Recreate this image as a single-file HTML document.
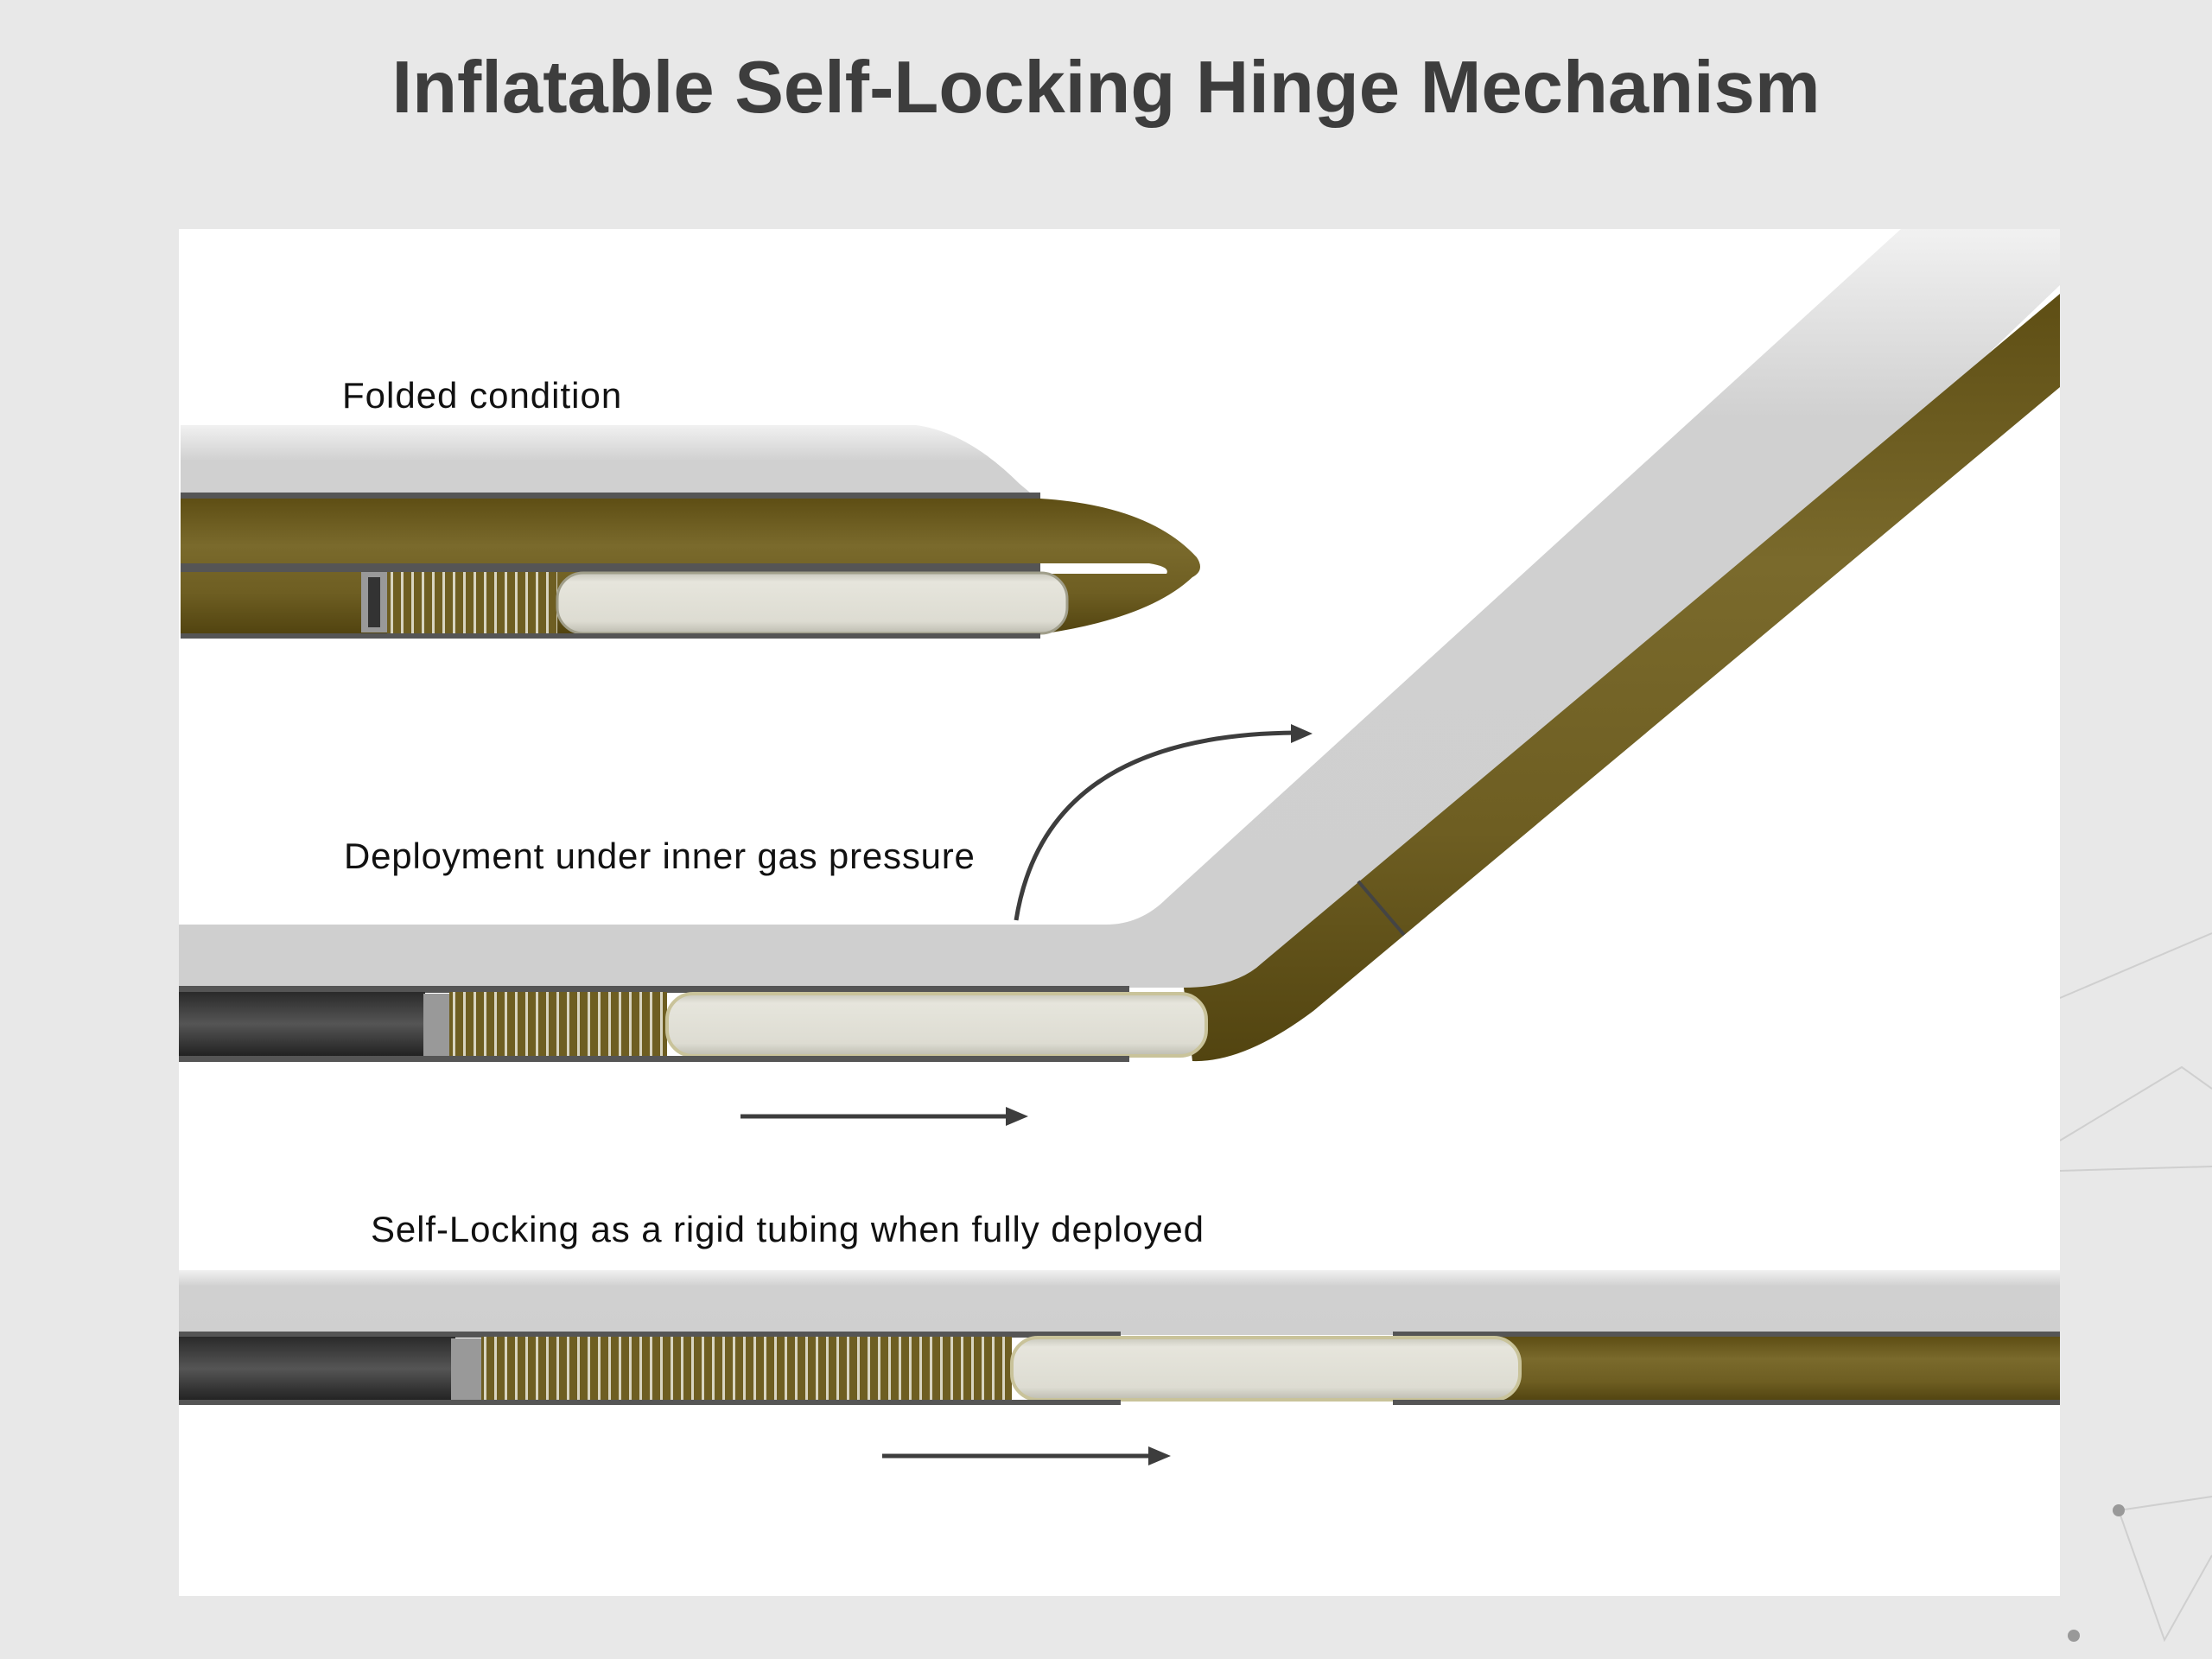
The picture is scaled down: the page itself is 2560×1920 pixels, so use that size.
<!DOCTYPE html>
<html><head><meta charset="utf-8"><style>
html,body{margin:0;padding:0;width:2560px;height:1920px;overflow:hidden;background:#e8e8e8}
svg{display:block}
text{font-family:"Liberation Sans",sans-serif}
</style></head><body>
<svg width="2560" height="1920" viewBox="0 0 2560 1920" xmlns="http://www.w3.org/2000/svg">
<defs>
<linearGradient id="ol" x1="0" y1="0" x2="0" y2="1">
<stop offset="0" stop-color="#5e4e14"/><stop offset="0.35" stop-color="#7a6a2c"/><stop offset="0.7" stop-color="#6e5e22"/><stop offset="1" stop-color="#524410"/></linearGradient>
<linearGradient id="wh" x1="0" y1="0" x2="0" y2="1">
<stop offset="0" stop-color="#c8c7bc"/><stop offset="0.15" stop-color="#e6e5dc"/><stop offset="0.8" stop-color="#dddcd2"/><stop offset="1" stop-color="#bdbcb0"/></linearGradient>
<linearGradient id="bk" x1="0" y1="0" x2="0" y2="1">
<stop offset="0" stop-color="#2a2a2a"/><stop offset="0.5" stop-color="#555"/><stop offset="1" stop-color="#222"/></linearGradient>
<pattern id="sp" width="12" height="10" patternUnits="userSpaceOnUse">
<rect width="12" height="10" fill="#6e5e22"/><rect x="8" width="3" height="10" fill="#d8d4c0"/></pattern>
<linearGradient id="sh" x1="0" y1="0" x2="0" y2="1"><stop offset="0" stop-color="#d0d0d0" stop-opacity="0.3"/><stop offset="0.25" stop-color="#d0d0d0"/><stop offset="1" stop-color="#cfcfcf"/></linearGradient>
</defs>
<rect width="2560" height="1920" fill="#e8e8e8"/>
<g stroke="#cfcfcf" stroke-width="2" fill="none">
<polyline points="2384,1155 2560,1080"/><polyline points="2384,1320 2525,1235 2560,1260"/><polyline points="2384,1355 2560,1350"/>
<polyline points="2452,1748 2560,1732"/><polyline points="2452,1748 2505,1898 2560,1800"/>
</g>
<circle cx="2452" cy="1748" r="7" fill="#999"/><circle cx="2400" cy="1893" r="7" fill="#999"/>
<text x="1280" y="130" text-anchor="middle" font-size="85" font-weight="bold" fill="#3d3d3d">Inflatable Self-Locking Hinge Mechanism</text>
<rect x="207" y="265" width="2177" height="1582" fill="#fff"/>

<!-- Folded -->
<text x="396" y="472" font-size="42" letter-spacing="1" fill="#111">Folded condition</text>
<path d="M209,492 L1060,492 Q1120,500 1180,560 L1300,660 L209,660 Z" fill="url(#sh)"/>
<rect x="209" y="570" width="995" height="8" fill="#555"/>
<path d="M209,577 L1204,577 Q1330,585 1385,645 Q1395,660 1380,668 Q1330,715 1210,733 L209,733 Z" fill="url(#ol)"/>
<rect x="209" y="652" width="995" height="10" fill="#555"/>
<path d="M1204,652 L1330,652 Q1355,656 1350,664 L1204,664 Z" fill="#fff"/>
<rect x="418" y="662" width="30" height="70" fill="#999"/>
<rect x="426" y="668" width="14" height="58" fill="#333"/>
<rect x="448" y="662" width="197" height="72" fill="url(#sp)"/>
<rect x="645" y="663" width="590" height="70" rx="30" fill="url(#wh)" stroke="#a09e8a" stroke-width="3"/>
<rect x="209" y="733" width="995" height="6" fill="#555"/>

<!-- Deployment -->
<text x="398" y="1005" font-size="42" letter-spacing="0.8" fill="#111">Deployment under inner gas pressure</text>
<path d="M207,1070 L1280,1070 Q1320,1070 1350,1040 L2200,265 L2384,265 L2384,330 L1600,1080 L1400,1143 L207,1143 Z" fill="url(#sh)"/>
<path d="M1176,1065 Q1210,850 1500,848" fill="none" stroke="#3d3d3d" stroke-width="5"/>
<path d="M1519,849 L1494,838 L1494,860 Z" fill="#3d3d3d"/>
<path d="M1370,1143 Q1430,1143 1460,1115 L2384,340 L2384,448 L1520,1170 Q1440,1230 1380,1228 Z" fill="url(#ol)"/>
<path d="M1572,1020 L1625,1082" stroke="#444" stroke-width="4"/>
<rect x="207" y="1141" width="1100" height="8" fill="#555"/>
<rect x="207" y="1148" width="285" height="74" fill="url(#bk)"/>
<rect x="490" y="1150" width="30" height="72" fill="#999"/>
<rect x="520" y="1148" width="252" height="76" fill="url(#sp)"/>
<rect x="772" y="1150" width="624" height="72" rx="30" fill="url(#wh)" stroke="#c9c39a" stroke-width="4"/>
<rect x="207" y="1222" width="1100" height="7" fill="#555"/>
<line x1="857" y1="1292" x2="1170" y2="1292" stroke="#3d3d3d" stroke-width="5"/>
<path d="M1190,1292 L1164,1281 L1164,1303 Z" fill="#3d3d3d"/>

<!-- Self-locking -->
<text x="429" y="1437" font-size="42" letter-spacing="0.9" fill="#111">Self-Locking as a rigid tubing when fully deployed</text>
<rect x="207" y="1470" width="2177" height="75" fill="url(#sh)"/>
<rect x="207" y="1541" width="1090" height="7" fill="#555"/>
<rect x="1612" y="1541" width="772" height="7" fill="#555"/>
<rect x="1612" y="1547" width="772" height="74" fill="url(#ol)"/>
<rect x="207" y="1547" width="320" height="74" fill="url(#bk)"/>
<rect x="522" y="1549" width="35" height="72" fill="#999"/>
<rect x="557" y="1547" width="614" height="76" fill="url(#sp)"/>
<rect x="1171" y="1548" width="588" height="72" rx="30" fill="url(#wh)" stroke="#c9c39a" stroke-width="4"/>
<rect x="207" y="1620" width="1090" height="6" fill="#555"/>
<rect x="1612" y="1620" width="772" height="6" fill="#555"/>
<line x1="1021" y1="1685" x2="1335" y2="1685" stroke="#3d3d3d" stroke-width="5"/>
<path d="M1355,1685 L1329,1674 L1329,1696 Z" fill="#3d3d3d"/>
</svg>
</body></html>
